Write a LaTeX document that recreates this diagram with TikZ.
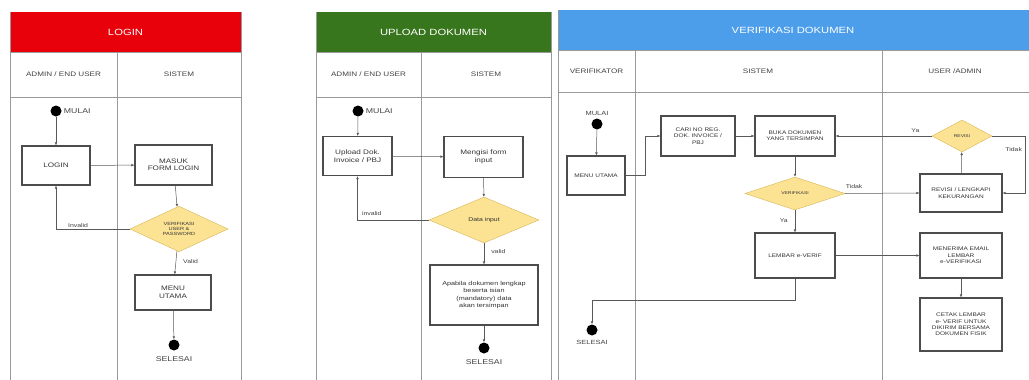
\documentclass[tikz,border=0pt]{standalone}
\usepackage{fontspec}
\setmainfont[FakeStretch=1.25]{Liberation Sans}
\usepackage{tikz}
\usetikzlibrary{arrows.meta,positioning,shapes.geometric}
\definecolor{hdrmerah}{HTML}{E8000B}
\definecolor{hdrhijau}{HTML}{38761D}
\definecolor{hdrbiru}{HTML}{4C9EEA}
\definecolor{kuningisi}{HTML}{FCE293}
\definecolor{kuninggaris}{HTML}{D6B656}
\definecolor{garisabu}{HTML}{9A9A9A}

\begin{document}
\begin{tikzpicture}[
  x=1pt, y=-1pt,
  font=\fontsize{6.5}{7.5}\selectfont,
  lajur/.style={draw=garisabu, line width=0.5pt},
  judul/.style={text=white, font=\fontsize{9}{10}\selectfont},
  kepala/.style={text=black!75, font=\fontsize{6.5}{7}\selectfont},
  proses/.style={draw=black!70, line width=1.1pt, fill=white, align=center, inner sep=1pt, text=black!80},
  kecil/.style={font=\fontsize{5.2}{6.4}\selectfont},
  keputusan/.style={diamond, draw=kuninggaris, fill=kuningisi, align=center, inner sep=0pt, text=black!80, font=\fontsize{4.5}{5}\selectfont},
  titik/.style={circle, fill=black, inner sep=0pt, minimum size=11pt},
  besar/.style={text=black!75, font=\fontsize{7}{8}\selectfont, inner sep=1pt},
  panah/.style={draw=black!65, line width=0.5pt, -{Latex[length=3pt,width=2.6pt]}},
  ket/.style={text=black!75, font=\fontsize{5.5}{6.5}\selectfont, inner sep=1pt}
]
\useasboundingbox (0,0) rectangle (1029,380);

% ---- panel LOGIN
\fill[hdrmerah] (10,12) rectangle (241,52);
\draw[lajur] (10,12) -- (10,380) (241,12) -- (241,380) (10,97) -- (241,97) (10,52) -- (241,52) (117,52) -- (117,380);
\node[judul] (jlogin) at (125.5,32) {LOGIN};
\node[kepala] (kadm1) at (63.5,74) {ADMIN / END USER};
\node[kepala] (ksis1) at (179,74) {SISTEM};

\node[titik] (mulai1) at (56,111) {};
\node[besar, right=1pt of mulai1] (tmulai1) {MULAI};
\node[proses, minimum width=68pt, minimum height=39pt] (login) at (56,165.5) {LOGIN};
\node[proses, minimum width=77pt, minimum height=40pt] (masuk) at (173.5,165) {MASUK\\FORM LOGIN};
\node[keputusan, minimum width=98pt, minimum height=45pt] (verif1) at (179,229) {VERIFIKASI\\USER \&\\PASSWORD};
\node[proses, minimum width=76pt, minimum height=35pt] (menu1) at (173,292.5) {MENU\\UTAMA};
\node[titik] (selesai1) at (174,345) {};
\node[besar, below=5pt of selesai1] (tselesai1) {SELESAI};

\draw[panah] (mulai1) -- (login);
\draw[panah] (login) -- (masuk);
\draw[panah] (masuk) -- (verif1);
\draw[panah] (verif1.west) -| node[ket, pos=0.35, above] (linv1) {Invalid} (login.south);
\draw[panah] (verif1) -- node[ket, right=6pt, pos=0.45] (lval1) {Valid} (menu1);
\draw[panah] (menu1) -- (selesai1);

% ---- panel UPLOAD DOKUMEN
\fill[hdrhijau] (316,12) rectangle (551,52);
\draw[lajur] (316,12) -- (316,380) (551,12) -- (551,380) (316,97) -- (551,97) (316,52) -- (551,52) (421,52) -- (421,380);
\node[judul] (jupload) at (433.5,32) {UPLOAD DOKUMEN};
\node[kepala] (kadm2) at (368.5,74) {ADMIN / END USER};
\node[kepala] (ksis2) at (486,74) {SISTEM};

\node[titik] (mulai2) at (358,111) {};
\node[besar, right=1pt of mulai2] (tmulai2) {MULAI};
\node[proses, minimum width=69pt, minimum height=39pt] (unggah) at (357.5,156) {Upload Dok.\\Invoice / PBJ};
\node[proses, minimum width=79pt, minimum height=41pt] (isi) at (483.5,157) {Mengisi form\\input};
\node[keputusan, minimum width=110pt, minimum height=46pt, font=\fontsize{5.5}{6}\selectfont] (cekdata) at (484,220) {Data input};
\node[proses, minimum width=108pt, minimum height=60pt, font=\fontsize{5.8}{7.2}\selectfont] (simpan) at (484,295) {Apabila dokumen lengkap\\beserta isian\\(mandatory) data\\akan tersimpan};
\node[titik] (selesai2) at (484,348) {};
\node[besar, below=5pt of selesai2] (tselesai2) {SELESAI};

\draw[panah] (mulai2) -- (unggah);
\draw[panah] (unggah) -- (isi);
\draw[panah] (isi) -- (cekdata);
\draw[panah] (cekdata.west) -| node[ket, pos=0.4, above=3pt] (linv2) {invalid} (unggah.south);
\draw[panah] (cekdata) -- node[ket, right=6pt, pos=0.4] (lval2) {valid} (simpan);
\draw[panah] (simpan) -- (selesai2);

% ---- panel VERIFIKASI DOKUMEN
\fill[hdrbiru] (558,10) rectangle (1029,50);
\draw[lajur] (558,10) -- (558,380) (558,92) -- (1029,92) (558,50) -- (1029,50) (635,50) -- (635,380) (882,50) -- (882,380);
\node[judul] (jverif) at (793,30) {VERIFIKASI DOKUMEN};
\node[kepala] (kverif) at (596.5,71) {VERIFIKATOR};
\node[kepala] (ksis3) at (758,71) {SISTEM};
\node[kepala] (kuser) at (955,71) {USER /ADMIN};

\node[titik] (mulai3) at (597,124) {};
\node[besar, above=2pt of mulai3, font=\fontsize{6}{7}\selectfont] (tmulai3) {MULAI};
\node[proses, kecil, minimum width=58pt, minimum height=39pt] (menu3) at (596,175.5) {MENU UTAMA};
\node[proses, kecil, minimum width=74pt, minimum height=40pt] (cari) at (698,136) {CARI NO REG.\\DOK. INVOICE /\\PBJ};
\node[proses, kecil, minimum width=80pt, minimum height=40pt] (buka) at (795,136) {BUKA DOKUMEN\\YANG TERSIMPAN};
\node[keputusan, minimum width=100pt, minimum height=33pt, font=\fontsize{4}{5}\selectfont] (verif3) at (795,193.5) {VERIFIKASI};
\node[proses, kecil, minimum width=80pt, minimum height=45pt] (lembar) at (795,255.5) {LEMBAR e-VERIF};
\node[keputusan, minimum width=60pt, minimum height=32pt, font=\fontsize{4}{5}\selectfont] (revisi) at (962,136) {REVISI};
\node[proses, kecil, minimum width=82pt, minimum height=38pt] (lengkapi) at (961,193) {REVISI / LENGKAPI\\KEKURANGAN};
\node[proses, kecil, minimum width=82pt, minimum height=45pt] (terima) at (961,255.5) {MENERIMA EMAIL\\LEMBAR\\e-VERIFIKASI};
\node[proses, kecil, minimum width=82pt, minimum height=53pt] (cetak) at (961,324.5) {CETAK LEMBAR\\e- VERIF UNTUK\\DIKIRIM BERSAMA\\DOKUMEN FISIK};
\node[titik] (selesai3) at (592,330) {};
\node[besar, below=3pt of selesai3, font=\fontsize{6}{7}\selectfont] (tselesai3) {SELESAI};

\draw[panah] (mulai3) -- (menu3);
\draw[panah] (menu3.east) -- ++(20,0) |- (cari.west);
\draw[panah] (cari) -- (buka);
\draw[panah] (buka) -- (verif3);
\draw[panah] (verif3.east) -- node[ket, pos=0.12, above=4pt] (ltidak1) {Tidak} (lengkapi.west);
\draw[panah] (lengkapi) -- (revisi);
\draw[panah] (revisi.west) -- node[ket, pos=0.17, above=2pt] (lya2) {Ya} (buka.east);
\draw[panah] (revisi.east) -- ++(33,0) |- node[ket, pos=0.12, left=2pt] (ltidak2) {Tidak} (lengkapi.east);
\draw[panah] (verif3) -- node[ket, left=6pt, pos=0.45] (lya1) {Ya} (lembar);
\draw[panah] (lembar) -- (terima);
\draw[panah] (terima) -- (cetak);
\draw[panah] (lembar.south) -- ++(0,22) -| (selesai3.north);
\end{tikzpicture}
\end{document}
